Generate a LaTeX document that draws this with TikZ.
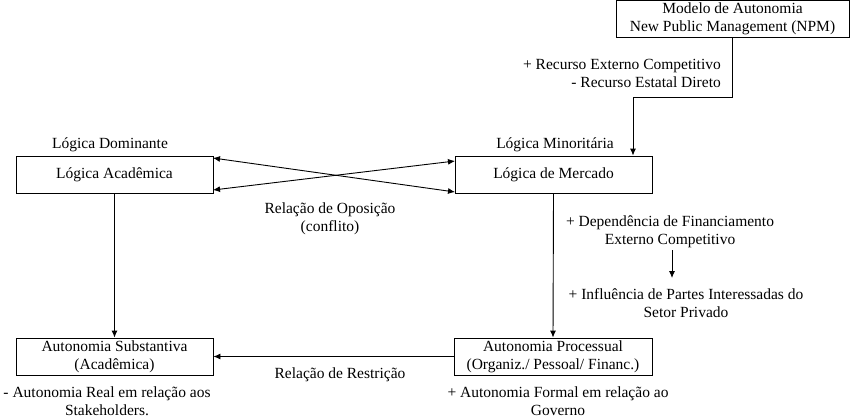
\documentclass[tikz,border=0pt]{standalone}
\usepackage{fontspec}
\setmainfont{Liberation Serif}
\usetikzlibrary{arrows.meta}
\begin{document}
\begin{tikzpicture}[x=1pt,y=-1pt,
  every node/.style={font=\fontsize{15.5}{18}\selectfont, inner sep=0pt, align=center},
  box/.style={draw, line width=0.9pt, minimum height=37pt},
  lbl/.style={},
  conn/.style={line width=0.9pt},
  arr/.style={conn, -{Latex[length=7pt,width=6pt]}},
  darr/.style={conn, {Latex[length=7pt,width=6pt]}-{Latex[length=7pt,width=6pt]}}]
\useasboundingbox (0,0) rectangle (850,416);
% boxes
\node[box, minimum width=233pt, minimum height=37pt] (npm) at (732.5,19) {Modelo de Autonomia\\New Public Management (NPM)};
\node[box, minimum width=197pt] (acad) at (114.5,174.5) {Lógica Acadêmica};
\node[box, minimum width=197pt] (merc) at (553.5,174.5) {Lógica de Mercado};
\node[box, minimum width=197pt] (subst) at (114.5,356.5) {Autonomia Substantiva\\(Acadêmica)};
\node[box, minimum width=198pt] (proc) at (553,356.5) {Autonomia Processual\\(Organiz./ Pessoal/ Financ.)};
% labels
\node (ldom) at (110,145) {Lógica Dominante};
\node (lmin) at (555,145) {Lógica Minoritária};
\node (opos) at (330,219) {Relação de Oposição\\(conflito)};
\node (rest) at (340,375) {Relação de Restrição};
\node[anchor=east, align=right] (rec) at (721,73) {+ Recurso Externo Competitivo\\- Recurso Estatal Direto};
\node (dep) at (670,232) {+ Dependência de Financiamento\\Externo Competitivo};
\node (infl) at (686,303) {+ Influência de Partes Interessadas do\\Setor Privado};
\node (real) at (107,401) {- Autonomia Real em relação aos\\Stakeholders.};
\node (form) at (558,401) {+ Autonomia Formal em relação ao\\Governo};
% connectors
\coordinate (c1) at (732,97);
\coordinate (c2) at (633,97);
\draw[arr] (npm.south -| c1) -- (c1) -- (c2) -- (c2 |- merc.north);
\coordinate (aT) at (213,158);
\coordinate (aB) at (213,190);
\coordinate (mT) at (455,161);
\coordinate (mB) at (455,192);
\draw[darr] (aT) -- (mB);
\draw[darr] (aB) -- (mT);
\draw[arr] (acad.south) -- (subst.north);
\draw[arr] (merc.south) -- (proc.north);
\draw[arr] (proc.west) -- (subst.east);
\draw[arr] (672,250) -- (672,278);
\end{tikzpicture}
\end{document}
